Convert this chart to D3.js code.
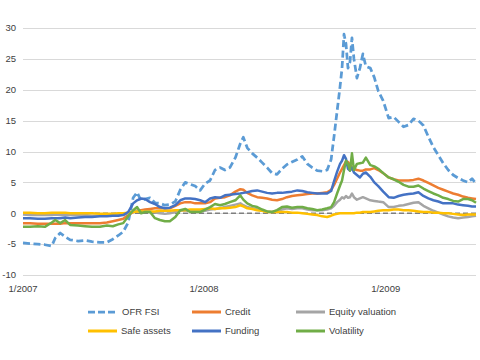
<!DOCTYPE html>
<html>
<head>
<meta charset="utf-8">
<script src="https://cdn.jsdelivr.net/npm/d3@7"></script>
<style>
  html, body { margin: 0; padding: 0; background: #fff; }
  text { font-family: "Liberation Sans", Arial, sans-serif; }
</style>
</head>
<body>
<div id="container"></div>
<script>
/** CONSTANTS AND GLOBALS */
const width = 480,
  height = 360,
  margin = { top: 28, bottom: 85, left: 23, right: 4 };

// sample dates (roughly every 10 days, denser around the autumn 2008 spike)
const dates = [
  "2007-01-01","2007-01-15","2007-01-31","2007-02-14","2007-02-28","2007-03-07","2007-03-17","2007-03-27","2007-04-06","2007-04-22",
  "2007-05-06","2007-05-20","2007-06-05","2007-06-19","2007-07-01","2007-07-12","2007-07-22","2007-08-01","2007-08-11","2007-08-19",
  "2007-08-27","2007-09-04","2007-09-14","2007-09-24","2007-10-04","2007-10-14","2007-10-24","2007-11-04","2007-11-14","2007-11-24",
  "2007-12-04","2007-12-14","2007-12-24",
  "2008-01-03","2008-01-13","2008-01-23","2008-02-02","2008-02-12","2008-02-22","2008-03-04","2008-03-14","2008-03-20","2008-03-28",
  "2008-04-07","2008-04-17","2008-04-27","2008-05-07","2008-05-17","2008-05-27","2008-06-06","2008-06-16","2008-06-26","2008-07-07",
  "2008-07-17","2008-07-27","2008-08-06","2008-08-16","2008-08-26","2008-09-05","2008-09-13","2008-09-19","2008-09-25","2008-10-01",
  "2008-10-05","2008-10-09","2008-10-13","2008-10-17","2008-10-21","2008-10-25","2008-10-29","2008-11-04","2008-11-10","2008-11-16",
  "2008-11-22","2008-12-01","2008-12-09","2008-12-17","2008-12-27",
  "2009-01-07","2009-01-17","2009-01-27","2009-02-06","2009-02-16","2009-02-26","2009-03-08","2009-03-18","2009-03-28","2009-04-07",
  "2009-04-17","2009-04-27","2009-05-07","2009-05-17","2009-05-27","2009-06-06","2009-06-16","2009-06-24","2009-07-02"
];

const ofrFsi = [
  -4.8,-4.9,-5.0,-5.1,-5.3, -4.0,-3.2,-3.8,-4.3,-4.5, -4.4,-4.6,-4.7,-4.7,-4.2, -3.6,-3.0,-1.5,2.5,3.4,
  2.0,2.3,2.5,1.7,1.6, 1.3,1.4,1.9,3.8,5.0, 4.7,4.4,3.7,
  4.8,5.3,7.0,7.4,7.0, 7.4,9.0,11.3,12.3,10.6, 9.7,9.0,8.2,7.4,6.5, 6.3,7.2,7.9,8.3,8.7,
  9.2,8.0,7.4,6.9,6.8, 7.0,8.7,12.5,16.5,20.5, 23.5,29.0,27.4,23.5,24.5, 28.4,25.0,21.9,23.5,25.8,
  23.8,23.5,22.0,19.8,18.2,
  15.4,15.6,14.8,14.0,14.3, 15.3,15.0,14.2,12.4,10.7, 9.4,8.1,7.0,6.2,5.7, 5.3,5.0,5.6,4.8
];

const credit = [
  -1.6,-1.6,-1.7,-1.7,-1.7, -1.7,-1.7,-1.6,-1.6,-1.6, -1.6,-1.6,-1.6,-1.5,-1.3, -1.1,-0.9,-0.3,0.2,0.4,
  0.5,0.6,0.7,0.8,0.8, 0.8,0.8,1.2,1.6,1.8, 1.8,1.6,1.6,
  1.6,1.8,2.4,2.5,2.6, 2.9,3.5,3.9,3.8,3.3, 2.9,2.6,2.5,2.4,2.2, 2.1,2.3,2.6,2.8,2.9,
  3.0,3.1,3.2,3.2,3.3, 3.4,3.8,4.6,5.6,6.6, 7.2,7.8,8.4,8.3,7.9, 7.4,7.2,7.0,6.9,6.9,
  7.1,7.1,7.3,7.0,6.5,
  5.8,5.5,5.3,5.3,5.3, 5.4,5.6,5.3,4.9,4.5, 4.1,3.8,3.5,3.2,3.0, 2.7,2.5,2.4,2.3
];

const equityValuation = [
  -0.2,-0.3,-0.3,-0.3,-0.3, -0.2,-0.3,-0.3,-0.3,-0.3, -0.3,-0.4,-0.4,-0.4,-0.3, -0.3,-0.2,0.0,0.3,0.4,
  0.2,0.3,0.3,0.1,0.0, -0.1,0.0,0.2,0.4,0.5, 0.3,0.3,0.3,
  0.4,0.6,0.7,0.8,1.0, 1.2,1.4,1.6,1.3,1.0, 0.8,0.6,0.4,0.3,0.2, 0.4,0.6,0.8,0.7,0.8,
  0.8,0.6,0.5,0.5,0.5, 0.6,0.8,1.2,1.8,2.2, 2.6,2.4,2.8,2.5,2.6, 3.2,2.6,2.2,2.4,2.6,
  2.4,2.1,2.0,1.9,1.8,
  1.0,1.0,1.2,1.3,1.5, 1.7,1.8,1.2,0.8,0.4, 0.1,-0.2,-0.5,-0.7,-0.8, -0.7,-0.6,-0.5,-0.4
];

const safeAssets = [
  0.1,0.1,0.0,0.0,0.1, 0.1,0.1,0.1,0.0,0.0, 0.0,0.0,-0.1,-0.1,-0.1, 0.0,0.0,0.1,0.2,0.3,
  0.3,0.3,0.3,0.3,0.4, 0.4,0.4,0.5,0.5,0.5, 0.6,0.6,0.6,
  0.7,0.8,0.7,0.8,0.8, 0.9,1.0,1.3,1.1,0.8, 0.7,0.5,0.4,0.2,0.2, 0.2,0.2,0.2,0.1,0.1,
  0.0,-0.1,-0.2,-0.3,-0.5, -0.6,-0.4,-0.2,-0.1,0.0, 0.0,0.0,0.0,0.0,0.0, 0.0,0.0,0.1,0.1,0.2,
  0.2,0.2,0.3,0.4,0.5,
  0.5,0.6,0.6,0.5,0.5, 0.4,0.3,0.2,0.2,0.1, 0.1,0.0,0.0,-0.1,-0.2, -0.3,-0.2,-0.2,-0.2
];

const funding = [
  -0.8,-0.8,-0.9,-0.9,-0.8, -0.8,-0.8,-0.7,-0.8,-0.7, -0.6,-0.6,-0.5,-0.5,-0.4, -0.4,-0.3,0.2,1.6,2.1,
  2.4,2.3,1.8,1.5,1.0, 0.8,0.9,1.3,2.1,2.4, 2.4,2.3,2.1,
  1.8,2.4,2.6,2.5,2.9, 3.0,3.1,3.2,3.3,3.4, 3.6,3.7,3.5,3.3,3.2, 3.3,3.3,3.4,3.5,3.7,
  3.6,3.4,3.3,3.2,3.2, 3.2,3.6,5.2,6.7,8.0, 8.5,9.4,8.8,7.2,6.9, 7.4,6.6,6.2,5.8,6.4,
  6.6,5.9,5.0,4.4,3.5,
  2.6,2.5,2.8,3.0,3.1, 3.2,3.4,2.8,2.4,2.1, 1.9,1.6,1.6,1.6,1.4, 1.3,1.2,1.1,1.1
];

const volatility = [
  -2.2,-2.2,-2.1,-2.2,-1.5, -1.1,-1.6,-1.1,-1.9,-2.0, -2.1,-2.2,-2.2,-2.0,-2.1, -1.8,-1.6,-0.5,0.5,1.0,
  0.0,0.2,0.2,-0.8,-1.1, -1.3,-1.3,-0.6,0.5,0.7, 0.2,0.2,0.2,
  0.6,1.0,1.5,1.3,1.5, 1.8,2.1,2.9,2.2,1.6, 1.2,1.0,0.6,0.3,0.2, 0.5,1.0,1.1,0.9,1.0,
  1.0,0.8,0.7,0.5,0.6, 0.8,1.0,1.8,3.2,4.5, 5.3,7.0,8.5,8.0,6.9, 9.7,7.0,8.0,8.1,8.2,
  9.0,7.8,7.6,7.2,6.5,
  5.8,5.5,5.1,4.6,4.3, 4.3,4.5,4.0,3.6,3.2, 2.9,2.5,2.3,2.0,1.9, 2.3,2.3,2.1,1.7
];

const seriesNames = ["OFR FSI", "Credit", "Equity valuation", "Safe assets", "Funding", "Volatility"];
const seriesColors = ["#5B9BD5", "#ED7D31", "#A5A5A5", "#FFC000", "#4472C4", "#70AD47"];

const yTicks = [-10, -5, 0, 5, 10, 15, 20, 25, 30];
const xTickDates = ["2007-01-01", "2008-01-01", "2009-01-01"];
const xTickLabels = ["1/2007", "1/2008", "1/2009"];

let svg;

/** INITIALIZING FUNCTION */
function init() {
  const parse = d3.timeParse("%Y-%m-%d");
  const parsedDates = dates.map(parse);

  const series = [ofrFsi, credit, equityValuation, safeAssets, funding, volatility].map((vals, i) => ({
    name: seriesNames[i],
    color: seriesColors[i],
    dashed: i === 0,
    values: vals.map((v, j) => ({ date: parsedDates[j], value: v }))
  }));

  const xScale = d3.scaleTime()
    .domain([parse("2007-01-01"), parse("2009-07-02")])
    .range([margin.left, width - margin.right]);

  const yScale = d3.scaleLinear()
    .domain([-10, 30])
    .range([height - margin.bottom, margin.top]);

  svg = d3.select("#container")
    .append("svg")
    .attr("width", width)
    .attr("height", height);

  // gridlines
  svg.append("g")
    .selectAll("line")
    .data(yTicks)
    .join("line")
    .attr("x1", margin.left)
    .attr("x2", width - margin.right)
    .attr("y1", d => Math.round(yScale(d)) + 0.5)
    .attr("y2", d => Math.round(yScale(d)) + 0.5)
    .attr("stroke", "#D9D9D9")
    .attr("stroke-width", 1);

  // y labels
  svg.append("g")
    .selectAll("text")
    .data(yTicks)
    .join("text")
    .attr("x", 16)
    .attr("y", d => yScale(d))
    .attr("dy", "0.35em")
    .attr("text-anchor", "end")
    .attr("font-size", 9.5)
    .attr("fill", "#404040")
    .text(d => d);

  // x labels
  svg.append("g")
    .selectAll("text")
    .data(xTickDates)
    .join("text")
    .attr("x", d => xScale(parse(d)))
    .attr("y", 292)
    .attr("text-anchor", "middle")
    .attr("font-size", 9.5)
    .attr("fill", "#404040")
    .text((d, i) => xTickLabels[i]);

  // zero line (dashed, under the series)
  svg.append("line")
    .attr("x1", margin.left)
    .attr("x2", width - margin.right)
    .attr("y1", yScale(0))
    .attr("y2", yScale(0))
    .attr("stroke", "#7F7F7F")
    .attr("stroke-width", 1.5)
    .attr("stroke-dasharray", "5,3");

  const lineGen = d3.line()
    .x(d => xScale(d.date))
    .y(d => yScale(d.value));

  svg.append("g")
    .selectAll("path")
    .data(series)
    .join("path")
    .attr("d", d => lineGen(d.values))
    .attr("fill", "none")
    .attr("stroke", d => d.color)
    .attr("stroke-width", d => d.dashed ? 2.75 : 2.5)
    .attr("stroke-dasharray", d => d.dashed ? "7,3.5" : null)
    .attr("stroke-linejoin", "round");

  draw(series);
}

/** DRAW FUNCTION (legend) */
function draw(series) {
  const colX = [88, 192, 296];
  const rowY = [312, 331];

  const items = svg.append("g")
    .selectAll("g")
    .data(series)
    .join("g")
    .attr("transform", (d, i) => `translate(${colX[i % 3]},${rowY[Math.floor(i / 3)]})`);

  items.append("line")
    .attr("x1", 0)
    .attr("x2", 29)
    .attr("stroke", d => d.color)
    .attr("stroke-width", d => d.dashed ? 2.75 : 3)
    .attr("stroke-dasharray", d => d.dashed ? "7,3" : null);

  items.append("text")
    .attr("x", d => d.dashed ? 34 : 33)
    .attr("dy", "0.35em")
    .attr("font-size", 9.5)
    .attr("fill", "#404040")
    .text(d => d.name);
}

init();
</script>
</body>
</html>
